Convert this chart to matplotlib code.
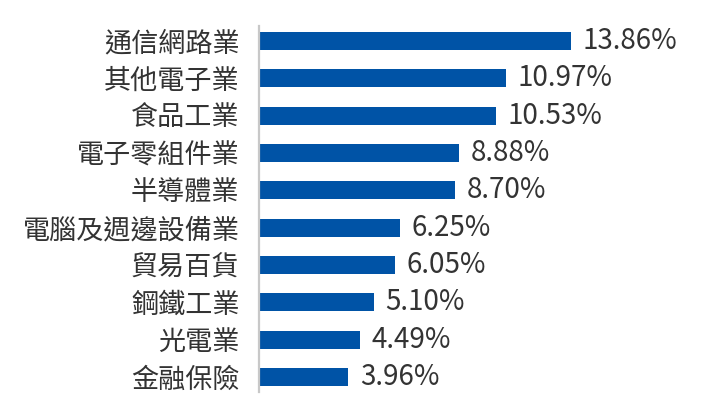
import matplotlib
matplotlib.use("Agg")
import matplotlib.pyplot as plt

categories = ["通信網路業", "其他電子業", "食品工業", "電子零組件業", "半導體業",
              "電腦及週邊設備業", "貿易百貨", "鋼鐵工業", "光電業", "金融保險"]
values = [13.86, 10.97, 10.53, 8.88, 8.70, 6.25, 6.05, 5.10, 4.49, 3.96]

plt.rcParams['font.family'] = ['Noto Sans CJK TC', 'DejaVu Sans']

fig = plt.figure(figsize=(7.05, 4.18), dpi=100)
left = 259 / 705
width = (700 - 259) / 705
top_pix, bot_pix = 22.3, 395.7
ax = fig.add_axes([left, 1 - bot_pix / 418, width, (bot_pix - top_pix) / 418])

pos = list(range(len(categories)))
ax.barh(pos, values, height=0.48, color="#0053A6")
ax.set_ylim(len(categories) - 0.5, -0.5)
ax.set_xlim(0, (700 - 259) / 22.5)
ax.set_yticks(pos)
ax.set_yticklabels(categories, fontsize=19.5, color="#333333")
ax.tick_params(axis='y', length=0, pad=14)
ax.set_xticks([])
for s in ["top", "right", "bottom"]:
    ax.spines[s].set_visible(False)
ax.spines["left"].set_color("#c8c8c8")
ax.spines["left"].set_linewidth(1.6)
ax.spines["left"].set_bounds(len(categories) - 0.6, -0.4)

for p, v in zip(pos, values):
    ax.annotate(f"{v:.2f}%", (v, p), xytext=(8.5, 0), textcoords="offset points",
                va="center", ha="left", fontsize=20, color="#333333")

fig.savefig("out.png", dpi=100)
